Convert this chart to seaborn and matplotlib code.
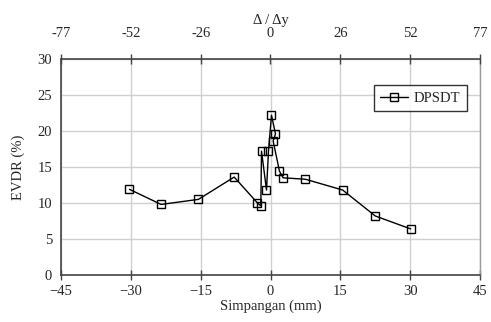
import matplotlib
matplotlib.use("Agg")
import matplotlib.pyplot as plt
import seaborn as sns
import pandas as pd

disp = [-30.3, -23.5, -15.5, -7.8, -2.86, -2.08, -1.93, -0.86, -0.43, 0.21, 1.07, 0.57, 1.93, 2.72, 7.5, 15.5, 22.5, 30.1]
evdr = [11.9, 9.8, 10.5, 13.6, 10.05, 9.6, 17.2, 11.8, 17.2, 22.2, 19.6, 18.6, 14.4, 13.5, 13.3, 11.8, 8.2, 6.4]
series = "DPSDT"
xticks = [-45, -30, -15, 0, 15, 30, 45]
top_labels = ["-77", "-52", "-26", "0", "26", "52", "77"]
yticks = [0, 5, 10, 15, 20, 25, 30]

df = pd.DataFrame({"x": disp, "y": evdr, "s": series})

sns.set_style("white")
plt.rcParams["font.family"] = ["Liberation Serif", "DejaVu Serif"]
plt.rcParams["font.size"] = 10.5

fig = plt.figure(figsize=(4.91, 3.22), dpi=100)
ax = fig.add_axes([61/491, 1-275/322, (480-61)/491, (275-59)/322])

sns.lineplot(data=df, x="x", y="y", hue="s", palette=["black"], sort=False,
             marker="s", markersize=6, markerfacecolor="none", markeredgecolor="black",
             markeredgewidth=1.0, linewidth=1.0, ax=ax, estimator=None)

ax.set_xlim(-45, 45)
ax.set_ylim(0, 30)
ax.set_xticks(xticks)
ax.set_yticks(yticks)
ax.grid(True, color="#d0d0d0", linewidth=1.0)
ax.set_axisbelow(True)
for s in ["left", "bottom", "top"]:
    ax.spines[s].set_color("#444444")
    ax.spines[s].set_linewidth(1.2)
ax.spines["right"].set_color("#999999")
ax.spines["right"].set_linewidth(1.0)
ax.tick_params(axis="both", direction="inout", length=7, width=1, color="#444444",
               labelsize=10.5)
ax.tick_params(axis="x", pad=4)
ax.tick_params(axis="y", pad=3)
ax.set_xlabel("Simpangan (mm)", fontsize=10.5, labelpad=1)
ax.set_ylabel("EVDR (%)", fontsize=10.5, labelpad=9)

top = ax.twiny()
top.set_xlim(ax.get_xlim())
top.set_xticks(xticks)
top.set_xticklabels(top_labels)
top.tick_params(axis="x", direction="inout", length=7, width=1, color="#444444",
                labelsize=10.5, pad=10)
top.set_xlabel("\u0394 / \u0394y", fontsize=10.5, labelpad=2)
for s in top.spines.values():
    s.set_visible(False)

leg = ax.legend(loc="upper right", bbox_to_anchor=(467/491, 1-85/322),
                bbox_transform=fig.transFigure, frameon=True, fancybox=False,
                borderaxespad=0, handlelength=1.9, handletextpad=0.4,
                borderpad=0.45, fontsize=10.5, markerscale=0.85)
leg.get_frame().set_edgecolor("black")
leg.get_frame().set_linewidth(1.0)

fig.savefig("out.png", dpi=100)
